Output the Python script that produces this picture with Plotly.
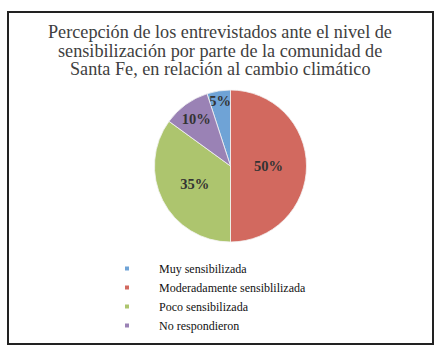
import plotly.graph_objects as go

categories = ["Muy sensibilizada", "Moderadamente sensiblilizada", "Poco sensibilizada", "No respondieron"]
values = [5, 50, 35, 10]
colors = ["#6fa3d6", "#d2695f", "#adc56e", "#9a82b5"]
title_lines = [
    "Percepción de los entrevistados ante el nivel de",
    "sensibilización por parte de la comunidad de",
    "Santa Fe, en relación al cambio climático",
]

W, H = 440, 349
serif = "Liberation Serif"

fig = go.Figure()
fig.add_trace(go.Pie(
    labels=categories, values=values, sort=False, direction="clockwise",
    rotation=-18,
    marker=dict(colors=colors, line=dict(color="#f4f4f4", width=0.8)),
    texttemplate="%{percent:.0%}", textposition="inside",
    insidetextorientation="horizontal",
    insidetextfont=dict(family=serif, size=14.5, color="#333333", weight="bold"),
    domain=dict(x=[154 / W, 307 / W], y=[1 - 242 / H, 1 - 90 / H]),
    showlegend=False, hoverinfo="label+percent",
))
for c, col in zip(categories, colors):
    fig.add_trace(go.Scatter(
        x=[None], y=[None], mode="markers", name=c,
        marker=dict(symbol="square", size=4, color=col),
    ))

for i, line in enumerate(title_lines):
    fig.add_annotation(
        text=line, xref="paper", yref="paper", x=220.5 / W, y=1 - (32 + 18.5 * i) / H,
        xanchor="center", yanchor="middle", showarrow=False, align="center",
        font=dict(family=serif, size=18.2, color="#404040"),
    )
fig.add_shape(type="rect", xref="paper", yref="paper",
              x0=8 / W, x1=433 / W, y0=1 - 344 / H, y1=1 - 12 / H,
              line=dict(color="#222222", width=2))

fig.update_layout(
    width=W, height=H, margin=dict(l=0, r=0, t=0, b=0),
    paper_bgcolor="white", plot_bgcolor="white",
    xaxis=dict(visible=False), yaxis=dict(visible=False),
    uniformtext=dict(minsize=14.5, mode="show"),
    legend=dict(x=95 / W, y=1 - 254 / H, xanchor="left", yanchor="top",
                font=dict(family=serif, size=12, color="#111111"),
                itemwidth=54, tracegroupgap=0, bgcolor="rgba(0,0,0,0)"),
)
fig.write_html("out.html")
